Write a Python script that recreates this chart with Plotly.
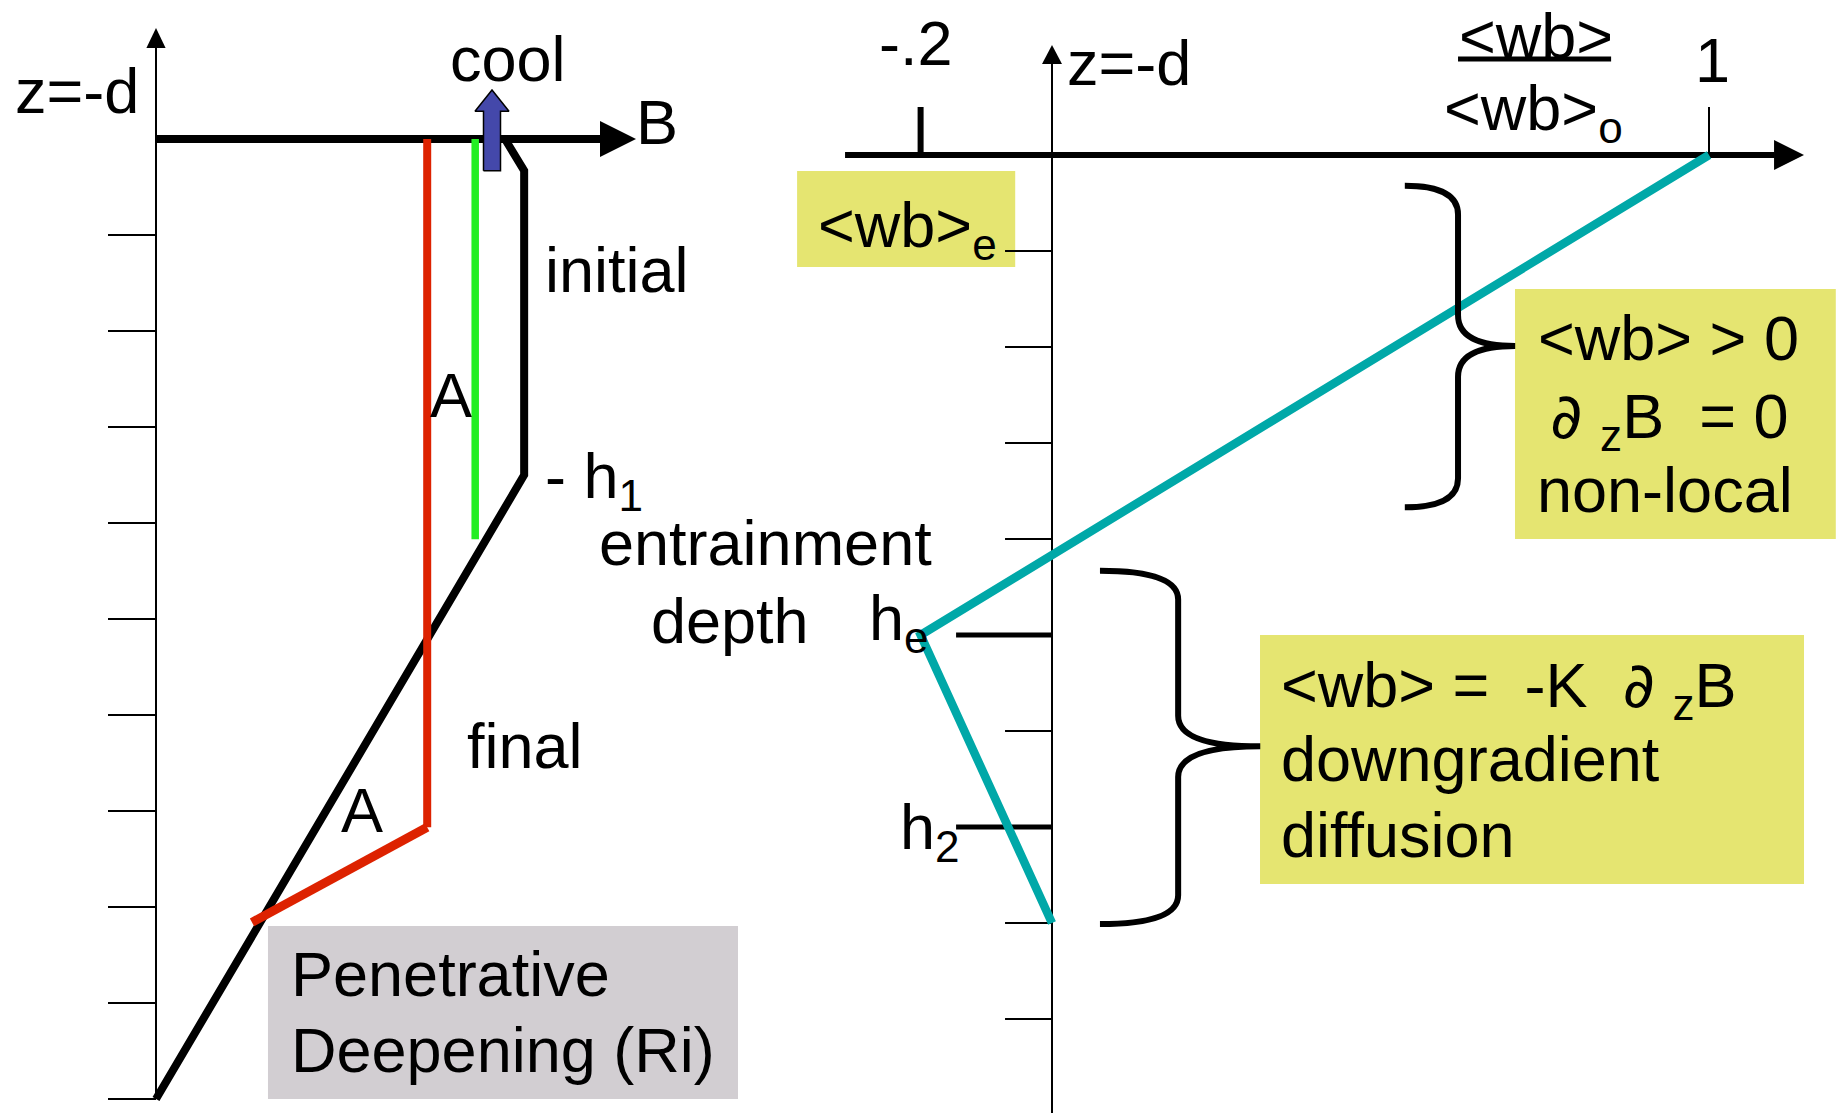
import plotly.graph_objects as go

FONT = "Liberation Sans, Arial, Helvetica, sans-serif"
FS = 63

# ---------------- data: left panel (buoyancy B against depth z) ----------------
left_tick_z = [-1, -2, -3, -4, -5, -6, -7, -8, -9, -10]
initial_B = [7.27, 7.67, 7.67, 0.0]
initial_z = [0.0, -0.33, -3.5, -10.0]
final_B = [5.65, 5.65, 2.0]
final_z = [0.0, -7.17, -8.16]
mid_B = [6.65, 6.65]
mid_z = [0.0, -4.17]
cool_B = 7.0
cool_z = [-0.33, 0.29, 0.51]          # arrow base, head base, tip

# ---------------- data: right panel (<wb>/<wb>o against depth z) ----------------
right_tick_z = [-1, -2, -3, -4, -5, -6, -7, -8, -9]
depth_tick_z = [-5, -7]
depth_tick_labels = ["h<sub>e</sub>", "h<sub>2</sub>"]
wb_ratio = [1.0, -0.2, 0.0]
wb_z = [0.0, -5.0, -8.0]
x_tick_vals = [-0.2, 1.0]
x_tick_labels = ["-.2", "1"]

# colours
BLACK = "#000000"
RED = "#DD2200"
GREEN = "#22EE22"
TEAL = "#00A8A8"
BLUE = "#4448AA"
YELLOW = "#E5E571"
GREY = "#D2CED2"

PARTIAL = '<span style="font-family:DejaVu Sans">∂</span>'

fig = go.Figure()


def line(x, y, color=BLACK, width=2, right=False):
    fig.add_trace(go.Scatter(x=x, y=y, mode="lines", hoverinfo="skip",
                             line=dict(color=color, width=width),
                             xaxis="x2" if right else "x",
                             yaxis="y2" if right else "y",
                             showlegend=False))


def poly(x, y, color=BLACK, outline=None, right=False):
    fig.add_trace(go.Scatter(x=x + [x[0]], y=y + [y[0]], mode="lines",
                             fill="toself", fillcolor=color, hoverinfo="skip",
                             line=dict(color=outline or color,
                                       width=1.5 if outline else 0),
                             xaxis="x2" if right else "x",
                             yaxis="y2" if right else "y",
                             showlegend=False))


# ---------------- left panel ----------------
line([0, 0], [left_tick_z[-1], 0.96], width=2)
poly([0, -0.2, 0.2], [1.156, 0.948, 0.948])
line([0, 9.3], [0, 0], width=8)
poly([10.0, 9.25, 9.25], [0, 0.1875, -0.1875])
tx, ty = [], []
for z in left_tick_z:
    tx += [-1, 0, None]
    ty += [z, z, None]
line(tx, ty, width=2)

line(initial_B, initial_z, BLACK, 8)
line(mid_B, mid_z, GREEN, 7.5)
line(final_B[:2], final_z[:2], RED, 8)
line(final_B[1:], final_z[1:], RED, 9)

sw, hw = 0.177, 0.354
poly([cool_B - sw, cool_B + sw, cool_B + sw, cool_B + hw, cool_B, cool_B - hw, cool_B - sw],
     [cool_z[0], cool_z[0], cool_z[1], cool_z[1], cool_z[2], cool_z[1], cool_z[1]],
     BLUE, outline=BLACK)

# ---------------- right panel ----------------
line([0, 0], [-10.2, 0.96], width=2, right=True)
poly([0, -0.0152, 0.0152], [1.146, 0.948, 0.948], right=True)
line([-0.315, 1.10], [0, 0], width=6, right=True)
poly([1.1446, 1.099, 1.099], [0, 0.156, -0.156], right=True)
line([x_tick_vals[0]] * 2, [0, 0.5], width=6, right=True)
line([x_tick_vals[1]] * 2, [0, 0.5], width=2, right=True)
tx, ty = [], []
for z in right_tick_z:
    tx += [-0.0715, 0, None]
    ty += [z, z, None]
line(tx, ty, width=2, right=True)
tx, ty = [], []
for z in depth_tick_z:
    tx += [-0.146, 0, None]
    ty += [z, z, None]
line(tx, ty, width=5, right=True)
line(wb_ratio, wb_z, TEAL, 8.5, right=True)


def brace(xe, xs, xt, zt, zm, zb, r=0.3, r2=0.32):
    return (f"M {xe},{zt} Q {xs},{zt} {xs},{zt - r} L {xs},{zm + r2} "
            f"Q {xs},{zm} {xt},{zm} Q {xs},{zm} {xs},{zm - r2} "
            f"L {xs},{zb + r} Q {xs},{zb} {xe},{zb}")


shapes = [
    dict(type="rect", xref="x", yref="y", x0=2.333, x1=12.125, y0=-8.198, y1=-10.0,
         fillcolor=GREY, line=dict(width=0), layer="below"),
    dict(type="rect", xref="x2", yref="y2", x0=-0.388, x1=-0.056, y0=-0.167, y1=-1.167,
         fillcolor=YELLOW, line=dict(width=0), layer="below"),
    dict(type="rect", xref="x2", yref="y2", x0=0.7047, x1=1.193, y0=-1.396, y1=-4.0,
         fillcolor=YELLOW, line=dict(width=0), layer="below"),
    dict(type="rect", xref="x2", yref="y2", x0=0.3166, x1=1.1446, y0=-5.0, y1=-7.594,
         fillcolor=YELLOW, line=dict(width=0), layer="below"),
    dict(type="path", xref="x2", yref="y2",
         path=brace(0.537, 0.618, 0.705, -0.32, -1.99, -3.67),
         line=dict(color=BLACK, width=6)),
    dict(type="path", xref="x2", yref="y2",
         path=brace(0.073, 0.192, 0.317, -4.33, -6.16, -8.01),
         line=dict(color=BLACK, width=6)),
    dict(type="line", xref="x2", yref="y2", x0=0.618, x1=0.851, y0=1.0, y1=1.0,
         line=dict(color=BLACK, width=5)),
]

SUB = 0.06  # label-centre shift for labels with a subscript


def txt(text, x, y, right=False, xanchor="center", size=FS):
    return dict(text=text, x=x, y=y, xref="x2" if right else "x",
                yref="y2" if right else "y", showarrow=False,
                xanchor=xanchor, yanchor="middle", borderpad=0,
                font=dict(family=FONT, size=size, color=BLACK))


annotations = [
    txt("z=-d", -1.646, 0.5),
    txt("cool", 7.333, 0.833),
    txt("B", 10.44, 0.177),
    txt("initial", 8.083, -1.365, xanchor="left"),
    txt("A", 6.146, -2.667),
    txt("- h<sub>1</sub>", 8.083, initial_z[2] - SUB, xanchor="left"),
    txt("entrainment", 12.69, -4.21),
    txt("depth", 11.96, -5.02),
    txt("final", 7.69, -6.32),
    txt("A", 4.29, -6.99),
    txt("Penetrative", 2.79, -8.698, xanchor="left"),
    txt("Deepening (Ri)", 2.79, -9.49, xanchor="left"),
    # right panel
    txt(x_tick_labels[0], x_tick_vals[0] - 0.007, 1.167, right=True),
    txt(x_tick_labels[1], x_tick_vals[1] + 0.005, 0.99, right=True),
    txt("z=-d", 0.0213, 0.958, right=True, xanchor="left"),
    txt("&lt;wb&gt;", 0.7367, 1.235, right=True),
    txt("&lt;wb&gt;<sub>o</sub>", 0.595, 0.5 - SUB, right=True, xanchor="left"),
    txt("&lt;wb&gt;<sub>e</sub>", -0.358, -0.719 - SUB, right=True, xanchor="left"),
    txt("&lt;wb&gt; &gt; 0", 0.9376, -1.906, right=True),
    txt(PARTIAL + " <sub>z</sub>B  = 0", 0.9406, -2.698 - SUB, right=True),
    txt("non-local", 0.933, -3.49, right=True),
    txt("&lt;wb&gt; =  -K  " + PARTIAL + " <sub>z</sub>B", 0.347, -5.5 - SUB, right=True, xanchor="left"),
    txt("downgradient", 0.347, -6.292, right=True, xanchor="left"),
    txt("diffusion", 0.347, -7.083, right=True, xanchor="left"),
    txt(depth_tick_labels[0], -0.28, depth_tick_z[0] + 0.19 - SUB, right=True, xanchor="left"),
    txt(depth_tick_labels[1], -0.233, depth_tick_z[1] + 0.01 - SUB, right=True, xanchor="left"),
]

ax = dict(visible=False, showgrid=False, zeroline=False, fixedrange=True, domain=[0, 1])
fig.update_layout(
    width=1847, height=1113, autosize=False,
    margin=dict(l=0, r=0, t=0, b=0, pad=0),
    paper_bgcolor="white", plot_bgcolor="white",
    xaxis=dict(ax, range=[-3.25, 35.2292]),
    yaxis=dict(ax, range=[-10.14583, 1.44792]),
    xaxis2=dict(ax, range=[-1.60122, 1.21004], overlaying="x", anchor="y2"),
    yaxis2=dict(ax, range=[-9.97917, 1.61458], overlaying="y", anchor="x2"),
    shapes=shapes, annotations=annotations, showlegend=False,
)

fig.write_html("out.html", config={"displayModeBar": False},
               post_script="document.body.style.margin='0';document.body.style.overflow='hidden';")
